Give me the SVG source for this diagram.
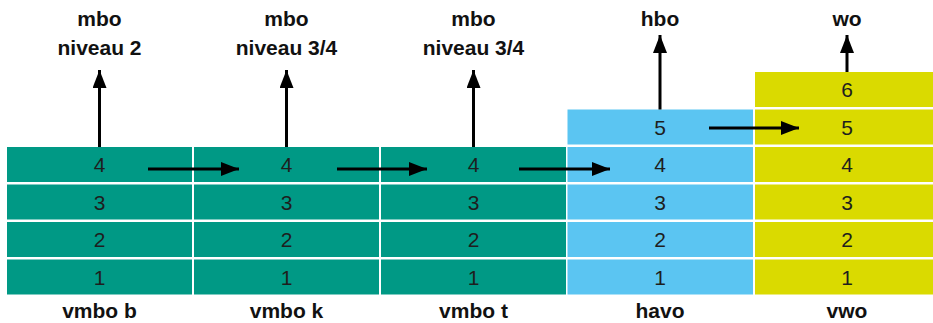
<svg xmlns="http://www.w3.org/2000/svg" width="933" height="323" viewBox="0 0 933 323">
<defs>
<style>
.t{fill:#009985}.b{fill:#5BC5F2}.y{fill:#DADA00}
.n{font-family:"Liberation Sans",Arial,sans-serif;font-size:21px;fill:#1e1e1e;text-anchor:middle}
.l{font-family:"Liberation Sans",Arial,sans-serif;font-size:21px;font-weight:bold;fill:#111;text-anchor:middle}
.a{stroke:#000;stroke-width:3;fill:none;marker-end:url(#ah)}
</style>
<marker id="ah" markerUnits="userSpaceOnUse" markerWidth="18" markerHeight="14" refX="18" refY="7" orient="auto"><path d="M0,0 L18,7 L0,14 z" fill="#000"/></marker>
</defs>
<rect width="933" height="323" fill="#fff"/>
<g id="vmbo-b">
<rect class="t" x="7" y="147" width="185" height="35"/><rect class="t" x="7" y="184.5" width="185" height="35"/><rect class="t" x="7" y="222" width="185" height="35"/><rect class="t" x="7" y="259.5" width="185" height="35"/>
<text class="n" x="99.5" y="172">4</text><text class="n" x="99.5" y="209.5">3</text><text class="n" x="99.5" y="247">2</text><text class="n" x="99.5" y="284.5">1</text>
<text class="l" x="99.5" y="318">vmbo b</text>
<text class="l" x="99.5" y="26">mbo</text><text class="l" x="99.5" y="55">niveau 2</text>
</g>
<g id="vmbo-k">
<rect class="t" x="194" y="147" width="185" height="35"/><rect class="t" x="194" y="184.5" width="185" height="35"/><rect class="t" x="194" y="222" width="185" height="35"/><rect class="t" x="194" y="259.5" width="185" height="35"/>
<text class="n" x="286.5" y="172">4</text><text class="n" x="286.5" y="209.5">3</text><text class="n" x="286.5" y="247">2</text><text class="n" x="286.5" y="284.5">1</text>
<text class="l" x="286.5" y="318">vmbo k</text>
<text class="l" x="286.5" y="26">mbo</text><text class="l" x="286.5" y="55">niveau 3/4</text>
</g>
<g id="vmbo-t">
<rect class="t" x="381" y="147" width="185" height="35"/><rect class="t" x="381" y="184.5" width="185" height="35"/><rect class="t" x="381" y="222" width="185" height="35"/><rect class="t" x="381" y="259.5" width="185" height="35"/>
<text class="n" x="473.5" y="172">4</text><text class="n" x="473.5" y="209.5">3</text><text class="n" x="473.5" y="247">2</text><text class="n" x="473.5" y="284.5">1</text>
<text class="l" x="473.5" y="318">vmbo t</text>
<text class="l" x="473.5" y="26">mbo</text><text class="l" x="473.5" y="55">niveau 3/4</text>
</g>
<g id="havo">
<rect class="b" x="567.5" y="109.5" width="185.5" height="35"/><rect class="b" x="567.5" y="147" width="185.5" height="35"/><rect class="b" x="567.5" y="184.5" width="185.5" height="35"/><rect class="b" x="567.5" y="222" width="185.5" height="35"/><rect class="b" x="567.5" y="259.5" width="185.5" height="35"/>
<text class="n" x="660" y="134.5">5</text><text class="n" x="660" y="172">4</text><text class="n" x="660" y="209.5">3</text><text class="n" x="660" y="247">2</text><text class="n" x="660" y="284.5">1</text>
<text class="l" x="660" y="318">havo</text>
<text class="l" x="660" y="26">hbo</text>
</g>
<g id="vwo">
<rect class="y" x="755" y="72" width="185" height="35"/><rect class="y" x="755" y="109.5" width="185" height="35"/><rect class="y" x="755" y="147" width="185" height="35"/><rect class="y" x="755" y="184.5" width="185" height="35"/><rect class="y" x="755" y="222" width="185" height="35"/><rect class="y" x="755" y="259.5" width="185" height="35"/>
<text class="n" x="847" y="97">6</text><text class="n" x="847" y="134.5">5</text><text class="n" x="847" y="172">4</text><text class="n" x="847" y="209.5">3</text><text class="n" x="847" y="247">2</text><text class="n" x="847" y="284.5">1</text>
<text class="l" x="847" y="318">vwo</text>
<text class="l" x="847" y="26">wo</text>
</g>
<g id="connectors">
<line class="a" x1="99.5" y1="147" x2="99.5" y2="70"/>
<line class="a" x1="286.5" y1="147" x2="286.5" y2="70"/>
<line class="a" x1="473.5" y1="147" x2="473.5" y2="70"/>
<line class="a" x1="660" y1="109.5" x2="660" y2="35"/>
<line class="a" x1="847" y1="72" x2="847" y2="35"/>
<line class="a" x1="148" y1="169" x2="239" y2="169"/>
<line class="a" x1="337" y1="169" x2="427" y2="169"/>
<line class="a" x1="519" y1="169" x2="610" y2="169"/>
<line class="a" x1="709" y1="128" x2="799" y2="128"/>
</g>
</svg>
